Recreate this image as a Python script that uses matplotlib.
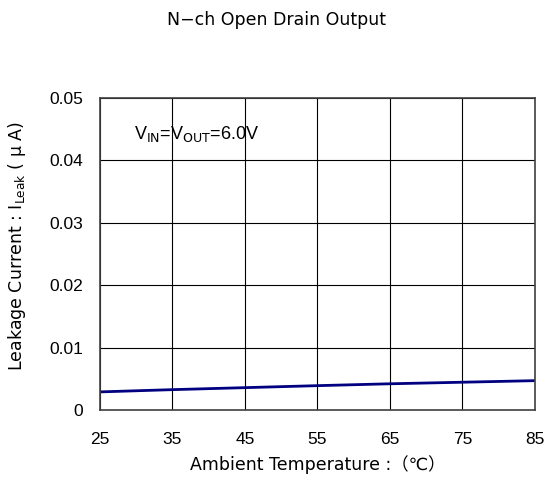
import matplotlib
matplotlib.use("Agg")
import matplotlib.pyplot as plt

temps = [25, 35, 45, 55, 65, 75, 85]
leak = [0.0029, 0.00326, 0.00358, 0.0039, 0.0042, 0.00445, 0.0047]
x_ticks = [25, 35, 45, 55, 65, 75, 85]
y_ticks = [0, 0.01, 0.02, 0.03, 0.04, 0.05]
y_tick_labels = ["0", "0.01", "0.02", "0.03", "0.04", "0.05"]

plt.rcParams['mathtext.fontset'] = 'custom'
plt.rcParams['mathtext.rm'] = 'DejaVu Sans'
plt.rcParams['mathtext.it'] = 'DejaVu Sans'

fig = plt.figure(figsize=(5.48, 4.82), dpi=100)
ax = fig.add_axes([0.1825, 0.1494, 0.976 - 0.1825, 0.7967 - 0.1494])

ax.plot(temps, leak, color='#000080', lw=2)
ax.set_xlim(25, 85)
ax.set_ylim(0, 0.05)
ax.set_xticks(x_ticks)
ax.set_yticks(y_ticks)
ax.set_yticklabels(y_tick_labels)
ax.grid(True, color='black', lw=0.8)
ax.set_axisbelow(True)
for s in ax.spines.values():
    s.set_color('#404040')
    s.set_linewidth(1.2)
ax.tick_params(length=0, labelsize=12.5)
ax.tick_params(axis='x', pad=16)
ax.tick_params(axis='y', pad=12)
for lab in ax.get_xticklabels() + ax.get_yticklabels():
    lab.set_family(['Liberation Sans'])

lab_fam = ['DejaVu Sans', 'Noto Sans CJK JP']
ax.set_xlabel('Ambient Temperature :（℃）', family=lab_fam, fontsize=12.5, labelpad=6)
ax.set_ylabel(r'Leakage Current : I$_{\mathrm{Leak}}$ ( μ A)', family=lab_fam, fontsize=12.5)
ax.yaxis.set_label_coords(-0.165, 0.525)

ax.text(0.078, 0.885, r'V$_{\mathrm{IN}}$=V$_{\mathrm{OUT}}$=6.0V', transform=ax.transAxes,
        family=['Liberation Sans'], fontsize=13, va='center', ha='left')

fig.text(0.505, 0.958, 'N−ch Open Drain Output', family=lab_fam,
         fontsize=12.5, ha='center', va='center')

fig.savefig('out.png', dpi=100)
